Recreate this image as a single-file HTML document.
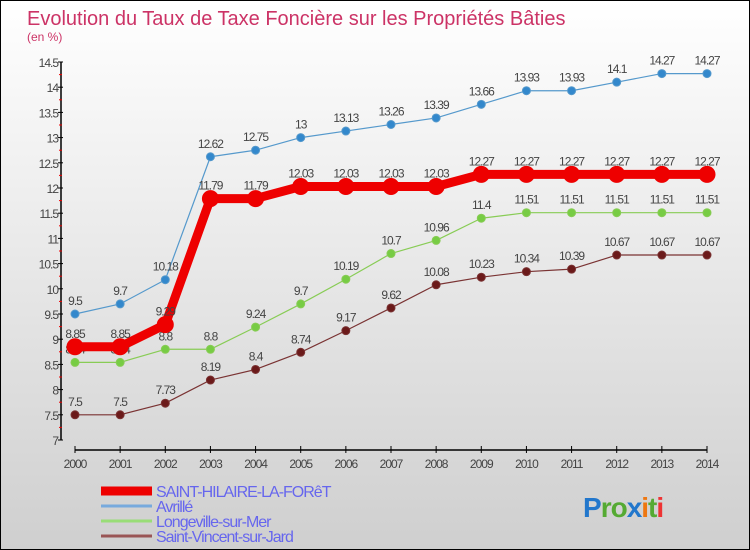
<!DOCTYPE html>
<html><head><meta charset="utf-8"><style>
body{margin:0}
#wrap{position:relative;width:748px;height:548px;border:1px solid #000;background:linear-gradient(#ffffff,#cfcfcf);overflow:hidden;font-family:"Liberation Sans",sans-serif}
svg{position:absolute;left:0;top:0}
</style></head><body>
<div id="wrap">
<svg id="c" width="748" height="548"></svg>
</div>
<script>
const years=[2000,2001,2002,2003,2004,2005,2006,2007,2008,2009,2010,2011,2012,2013,2014];
const sainthilaire=[8.85,8.85,9.29,11.79,11.79,12.03,12.03,12.03,12.03,12.27,12.27,12.27,12.27,12.27,12.27];
const avrille=[9.5,9.7,10.18,12.62,12.75,13,13.13,13.26,13.39,13.66,13.93,13.93,14.1,14.27,14.27];
const longeville=[8.54,8.54,8.8,8.8,9.24,9.7,10.19,10.7,10.96,11.4,11.51,11.51,11.51,11.51,11.51];
const saintvincent=[7.5,7.5,7.73,8.19,8.4,8.74,9.17,9.62,10.08,10.23,10.34,10.39,10.67,10.67,10.67];
const yTicks=[7,7.5,8,8.5,9,9.5,10,10.5,11,11.5,12,12.5,13,13.5,14,14.5];
const seriesNames=["SAINT-HILAIRE-LA-FORêT","Avrillé","Longeville-sur-Mer","Saint-Vincent-sur-Jard"];

const NS="http://www.w3.org/2000/svg";
const svg=document.getElementById('c');
const X=i=>74+(i)*(632/(years.length-1));
const Y=v=>439-(v-7)*(378/7.5);
function mk(t,a,p){const e=document.createElementNS(NS,t);for(const k in a)e.setAttribute(k,a[k]);(p||svg).appendChild(e);return e;}
function fmt(v){return String(v);}

let t=mk('text',{x:26,y:24,'font-size':20,fill:'#cc3366'});t.textContent='Evolution du Taux de Taxe Foncière sur les Propriétés Bâties';

t=mk('text',{x:26,y:40,'font-size':12,fill:'#cc3366'});t.textContent='(en %)';


// y axis
let ya=mk('line',{x1:60,y1:Y(14.5),x2:60,y2:Y(7),stroke:'#000','stroke-width':1.5});

yTicks.forEach((v,i)=>{
  mk('line',{x1:57,y1:Y(v),x2:62,y2:Y(v),stroke:'#000'});
  if(i<yTicks.length-1)mk('line',{x1:58,y1:Y(v+0.25),x2:61,y2:Y(v+0.25),stroke:'#e00'});
  const l=mk('text',{x:57,y:Y(v)+5,'font-size':12,fill:'#444','text-anchor':'end','letter-spacing':'-1'});l.textContent=fmt(v);
  
});
// x axis
let xa=mk('line',{x1:X(0),y1:449,x2:X(years.length-1),y2:449,stroke:'#000','stroke-width':1.5});

years.forEach((y,i)=>{
  mk('line',{x1:X(i),y1:445,x2:X(i),y2:452,stroke:'#000'});
  const l=mk('text',{x:X(i),y:467,'font-size':12,fill:'#444','text-anchor':'middle','letter-spacing':'-1'});l.textContent=y;
  
});

function series(data,color,w,r,name,dot){
  const g=mk('g',{});
  
  mk('polyline',{points:data.map((v,i)=>X(i)+','+Y(v)).join(' '),fill:'none',stroke:color,'stroke-width':w,'stroke-linejoin':'round'},g);
  data.forEach((v,i)=>{
    const c=mk('circle',{cx:X(i),cy:Y(v),r:r,fill:dot,stroke:color,'stroke-width':1},g);
    
    const l=mk('text',{x:X(i),y:Y(v)-9,'font-size':12,fill:'#444','text-anchor':'middle','letter-spacing':'-1'},g);l.textContent=fmt(v);
    
  });
}
series(saintvincent,'#7a3333',1.2,4,'series-saint-vincent','#6b1a1a');
series(longeville,'#88cc55',1.2,4,'series-longeville','#77cc44');
series(avrille,'#5599cc',1.2,4,'series-avrille','#3388cc');
series(sainthilaire,'#ee0000',9,8,'series-saint-hilaire','#ee0000');

// legend
const lc=['#ee0000','#77aadd','#99dd77','#995555'];const lw=[9,3,3,3];
seriesNames.forEach((n,i)=>{
  const y=490+i*15;
  const g=mk('g',{});
  mk('line',{x1:100,y1:y,x2:151,y2:y,stroke:lc[i],'stroke-width':lw[i]},g);
  const l=mk('text',{x:155,y:y+6,'font-size':16,fill:'#6666ee','letter-spacing':'-1'},g);l.textContent=n;
});
// logo
const lg=mk('text',{x:582,y:516,'font-size':28,'font-weight':'bold','letter-spacing':'-1'});

[['P','#2277cc'],['ro','#55aa33'],['x','#2277cc'],['i','#ee7711'],['t','#55aa33'],['i','#ee3333']].forEach(([s,c])=>{const ts=mk('tspan',{fill:c},lg);ts.textContent=s;});
</script>
</body></html>
